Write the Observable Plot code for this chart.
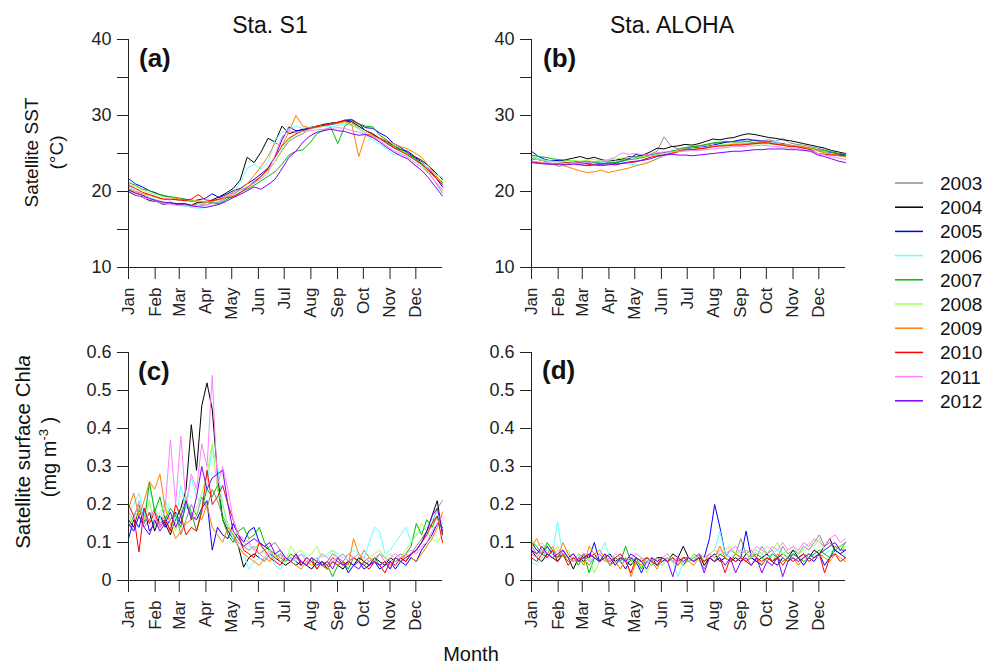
<!DOCTYPE html>
<html><head><meta charset="utf-8">
<script src="https://cdn.jsdelivr.net/npm/d3@7"></script>
<script src="https://cdn.jsdelivr.net/npm/@observablehq/plot@0.6"></script>
<style>
body{margin:0;background:#fff;}
#fig{position:relative;width:985px;height:668px;font-family:"Liberation Sans",Arial,sans-serif;overflow:hidden;background:#fff}
#fig > svg{position:absolute}
</style></head><body><div id="fig"></div>
<script>
const years = [2003, 2004, 2005, 2006, 2007, 2008, 2009, 2010, 2011, 2012];
const yearColors = ["#8c8c8c", "#000000", "#0000ff", "#66ffff", "#00bb00", "#99ff55", "#ff8000", "#ff0000", "#ff80ff", "#8000ff"];
const monthNames = ["Jan", "Feb", "Mar", "Apr", "May", "Jun", "Jul", "Aug", "Sep", "Oct", "Nov", "Dec"];
const monthStartDays = [0, 31, 59, 90, 120, 151, 181, 212, 243, 273, 304, 334];
const sstTicks = [10, 15, 20, 25, 30, 35, 40];
const chlTicks = [0, 0.1, 0.2, 0.3, 0.4, 0.5, 0.6];

// (a) Satellite SST at Sta. S1, one row per year (2003..2012), ~8-day samples over the year
const sstS1 = [
[20.3,19.8,19.5,19.0,18.9,18.5,18.6,18.2,18.3,18.1,18.4,18.2,18.5,18.6,19.1,19.6,20.2,20.5,21.4,21.9,22.8,23.9,25.4,26.6,27.2,27.6,28.3,28.5,28.9,28.8,29.1,29.4,29.0,28.4,27.6,27.3,26.9,26.3,25.7,25.3,24.9,24.4,23.5,22.5,21.2,19.8],
[20.0,19.5,19.3,18.8,18.7,18.3,18.5,18.4,18.4,18.2,18.6,18.5,18.9,19.3,19.8,20.4,21.5,24.5,23.8,25.2,27.0,26.5,28.6,27.6,27.9,28.2,28.4,28.6,28.8,29.0,29.1,29.3,29.2,28.6,28.0,27.6,27.0,26.6,26.0,25.5,25.3,24.6,24.1,23.4,22.5,21.6],
[21.7,21.0,20.6,20.1,19.8,19.4,19.3,18.9,19.0,18.7,18.9,19.1,19.7,19.2,19.6,20.1,20.4,21.0,21.6,22.3,23.1,24.6,26.8,28.5,28.0,28.1,28.4,28.6,28.7,28.8,29.0,29.3,29.4,28.9,28.4,28.3,27.7,27.2,26.3,25.8,25.1,24.5,23.9,23.0,21.9,20.6],
[20.6,20.2,19.6,19.2,18.9,18.6,18.4,18.2,18.1,17.9,17.8,17.9,18.1,18.5,19.0,19.8,21.2,23.0,23.6,23.0,23.8,26.8,27.8,28.2,28.6,28.3,28.5,28.4,28.6,28.5,28.7,28.8,28.7,28.2,27.4,26.8,26.2,25.6,24.8,24.9,24.6,24.3,23.8,23.1,22.3,21.8],
[21.2,20.8,20.3,20.1,19.7,19.5,19.3,19.2,19.0,18.9,18.7,18.6,18.5,18.4,18.9,19.4,19.9,20.3,20.8,21.4,22.0,22.6,23.6,24.8,25.3,25.5,26.4,27.6,28.1,28.4,26.3,28.6,29.3,28.9,28.6,28.5,27.4,26.8,26.0,25.6,25.0,24.4,23.7,22.7,21.9,21.2],
[20.9,20.7,20.2,19.8,19.6,19.3,19.2,19.0,18.8,18.9,18.7,18.6,18.7,18.9,19.2,19.5,19.8,20.4,21.0,21.9,22.7,23.9,25.6,26.8,27.5,27.9,28.2,28.4,28.6,28.9,28.9,29.0,28.8,28.3,27.7,27.3,26.9,26.4,25.9,25.3,24.9,24.1,23.4,22.6,21.8,21.4],
[20.4,20.0,19.7,19.5,19.2,19.0,18.9,19.1,18.8,18.7,18.8,18.6,18.7,19.0,19.4,19.9,20.3,21.0,22.1,23.3,24.6,26.4,26.0,27.9,30.0,28.6,28.4,28.6,28.7,28.9,29.0,29.2,28.8,24.6,27.5,27.4,27.0,26.7,26.3,25.9,25.6,25.1,24.5,23.4,22.2,21.0],
[20.8,20.4,19.9,19.6,19.3,19.0,19.0,18.9,18.8,19.0,19.6,18.9,18.8,19.0,19.2,19.3,19.8,20.5,21.2,22.0,23.0,24.5,26.0,27.0,27.6,28.0,28.3,28.5,28.7,28.9,29.1,29.4,29.5,28.9,28.0,27.5,27.0,26.4,25.8,25.3,24.8,24.2,23.6,22.8,21.8,20.9],
[20.1,19.6,19.2,19.0,18.7,18.4,18.3,18.2,18.1,18.2,18.1,18.2,18.4,18.7,19.3,19.7,20.2,20.6,21.1,21.7,22.4,24.8,27.2,28.0,27.8,27.9,28.0,28.1,28.2,28.3,28.4,28.3,28.0,27.8,27.5,27.2,26.7,26.0,25.4,25.0,24.5,23.8,23.2,22.4,21.3,20.2],
[20.2,19.8,19.5,19.1,18.8,18.6,18.5,18.3,18.4,18.1,18.0,17.9,18.1,18.3,18.7,19.2,19.6,20.1,20.6,20.3,20.9,21.6,23.0,24.5,25.3,26.5,27.3,27.8,28.0,28.2,28.0,27.9,27.6,27.4,27.5,27.1,26.5,25.8,25.2,24.7,24.3,23.5,22.8,21.8,20.6,19.4]
];

// (b) Satellite SST at Sta. ALOHA
const sstAloha = [
[24.6,24.3,24.0,23.6,23.3,23.6,23.7,23.9,23.8,23.6,23.9,24.0,23.8,24.2,24.4,24.6,24.8,24.9,25.3,27.2,26.0,25.6,25.8,25.9,26.0,26.1,26.3,26.4,26.5,26.6,26.7,26.6,26.8,26.7,26.8,26.6,27.0,26.4,26.2,26.1,25.9,25.7,25.5,25.2,25.0,24.8],
[24.3,24.2,24.0,24.1,24.0,24.2,24.4,24.6,24.3,24.5,24.2,24.0,24.1,24.3,24.6,24.5,24.8,25.2,25.7,25.6,25.9,26.0,26.2,26.1,26.3,26.6,26.9,26.8,27.0,27.1,27.4,27.6,27.5,27.3,27.1,27.0,26.8,26.7,26.5,26.3,26.1,25.9,25.7,25.4,25.2,25.0],
[25.3,24.6,24.2,24.0,24.1,23.8,23.7,23.6,23.7,23.9,23.6,23.8,23.7,24.0,24.3,24.9,24.6,24.8,25.0,25.1,25.3,25.4,25.6,25.7,25.8,25.9,26.1,26.3,26.5,26.6,26.8,26.9,26.7,26.6,26.6,26.4,26.3,26.1,25.9,25.8,25.6,25.4,25.2,25.1,24.9,24.8],
[24.5,24.3,24.1,24.0,23.9,23.8,23.9,23.8,23.9,23.7,23.8,23.9,24.0,23.8,23.6,23.5,23.6,23.9,24.3,24.6,24.9,25.2,25.4,25.6,25.7,25.8,26.0,26.1,26.2,26.3,26.3,26.4,26.3,26.5,26.5,26.4,26.2,26.1,26.0,25.8,25.7,25.4,25.2,25.0,24.8,24.6],
[24.8,24.6,24.5,24.3,24.2,24.1,24.0,23.9,24.0,23.8,23.7,23.7,23.8,24.0,24.2,24.3,24.5,24.7,24.9,25.0,25.3,25.5,25.7,25.9,26.0,26.2,26.4,26.5,26.6,26.5,26.5,26.6,26.4,26.3,26.3,26.2,26.1,26.0,25.9,25.8,25.7,25.5,25.4,25.2,25.0,24.9],
[24.3,24.2,24.0,23.9,23.9,24.0,24.1,24.0,24.1,24.2,24.0,24.1,24.3,24.4,24.5,24.5,24.6,24.7,24.9,25.0,25.2,25.4,25.6,25.6,25.7,25.8,26.0,26.1,26.2,26.2,26.3,26.3,26.2,26.3,26.3,26.2,26.1,26.0,25.9,25.7,25.6,25.3,25.1,24.9,24.7,24.5],
[24.0,23.8,23.7,23.6,23.5,23.3,23.0,22.7,22.5,22.6,22.8,22.5,22.7,22.9,23.1,23.4,23.6,23.9,24.3,24.8,25.0,25.2,25.5,25.5,25.6,25.8,25.9,26.0,26.1,26.2,26.2,26.3,26.4,26.4,26.4,26.3,26.2,26.1,26.0,25.9,25.7,25.4,25.1,24.9,24.7,24.6],
[23.9,23.8,23.7,23.6,23.7,23.8,23.7,23.8,23.6,23.5,23.4,23.5,23.6,23.7,23.8,23.9,24.2,24.5,24.7,24.8,25.0,25.3,25.5,25.5,25.6,25.7,25.9,26.0,26.0,26.1,26.1,26.2,26.3,26.4,26.4,26.2,26.1,25.9,25.9,25.7,25.5,25.0,24.9,24.8,24.8,24.7],
[24.0,23.9,23.8,23.7,23.7,23.6,23.7,23.7,23.8,23.9,24.0,24.2,24.5,25.1,24.9,25.0,24.8,24.9,25.1,25.2,25.2,25.3,25.3,25.4,25.4,25.5,25.6,25.7,25.8,25.9,25.9,26.0,26.0,26.1,26.0,25.9,25.8,25.7,25.7,25.5,25.3,25.0,24.8,24.6,24.4,24.2],
[23.8,23.7,23.6,23.6,23.6,23.5,23.6,23.5,23.4,23.5,23.6,23.6,23.5,23.7,23.9,24.0,24.1,24.3,24.6,24.8,24.9,24.8,24.8,24.7,24.8,24.9,25.0,25.1,25.2,25.3,25.3,25.4,25.5,25.5,25.6,25.6,25.6,25.5,25.5,25.4,25.3,24.8,24.6,24.3,24.0,23.8]
];

// (c) Satellite surface Chla at Sta. S1, ~6-day samples
const chlS1 = [
[0.15,0.13,0.17,0.14,0.16,0.19,0.15,0.17,0.13,0.18,0.12,0.16,0.2,0.17,0.22,0.19,0.24,0.21,0.17,0.14,0.12,0.1,0.09,0.08,0.09,0.07,0.08,0.09,0.1,0.08,0.06,0.05,0.06,0.05,0.04,0.05,0.06,0.04,0.05,0.07,0.06,0.05,0.07,0.06,0.05,0.08,0.06,0.05,0.07,0.06,0.05,0.06,0.07,0.06,0.07,0.09,0.11,0.13,0.15,0.19,0.21],
[0.16,0.14,0.19,0.15,0.18,0.13,0.17,0.15,0.12,0.16,0.19,0.24,0.41,0.29,0.46,0.52,0.45,0.28,0.16,0.13,0.11,0.09,0.035,0.06,0.07,0.06,0.05,0.07,0.06,0.05,0.04,0.05,0.04,0.05,0.04,0.03,0.05,0.04,0.03,0.05,0.04,0.03,0.05,0.04,0.06,0.05,0.04,0.06,0.05,0.04,0.06,0.05,0.06,0.05,0.07,0.08,0.1,0.13,0.17,0.21,0.12],
[0.11,0.16,0.14,0.19,0.13,0.15,0.17,0.14,0.16,0.18,0.15,0.2,0.17,0.16,0.19,0.21,0.08,0.14,0.12,0.11,0.15,0.12,0.1,0.13,0.14,0.1,0.09,0.08,0.06,0.07,0.05,0.06,0.05,0.04,0.06,0.05,0.04,0.05,0.03,0.05,0.04,0.05,0.02,0.04,0.05,0.03,0.04,0.05,0.03,0.04,0.05,0.03,0.05,0.04,0.06,0.05,0.08,0.1,0.12,0.15,0.14],
[0.18,0.2,0.23,0.17,0.25,0.19,0.16,0.21,0.18,0.15,0.25,0.19,0.27,0.22,0.2,0.25,0.35,0.3,0.2,0.14,0.11,0.09,0.07,0.03,0.05,0.06,0.05,0.07,0.04,0.03,0.05,0.06,0.05,0.07,0.06,0.05,0.06,0.07,0.06,0.08,0.07,0.06,0.07,0.08,0.07,0.06,0.1,0.14,0.13,0.07,0.08,0.1,0.12,0.14,0.1,0.12,0.13,0.14,0.16,0.18,0.15],
[0.14,0.17,0.2,0.15,0.26,0.18,0.22,0.16,0.19,0.17,0.14,0.21,0.18,0.13,0.19,0.24,0.22,0.25,0.16,0.12,0.1,0.13,0.14,0.11,0.12,0.14,0.1,0.08,0.07,0.06,0.05,0.07,0.06,0.05,0.04,0.06,0.03,0.05,0.04,0.01,0.04,0.05,0.03,0.06,0.05,0.04,0.05,0.06,0.04,0.05,0.03,0.06,0.05,0.07,0.09,0.15,0.12,0.16,0.14,0.17,0.13],
[0.17,0.15,0.19,0.16,0.21,0.14,0.18,0.2,0.16,0.13,0.18,0.22,0.16,0.19,0.23,0.28,0.36,0.24,0.2,0.15,0.12,0.11,0.1,0.09,0.08,0.1,0.07,0.08,0.06,0.07,0.05,0.09,0.07,0.08,0.06,0.07,0.09,0.06,0.07,0.08,0.06,0.07,0.05,0.06,0.07,0.05,0.06,0.07,0.08,0.06,0.07,0.05,0.06,0.08,0.1,0.12,0.15,0.13,0.11,0.1,0.12],
[0.19,0.23,0.17,0.21,0.26,0.24,0.28,0.19,0.15,0.11,0.13,0.15,0.16,0.17,0.16,0.2,0.14,0.12,0.1,0.14,0.12,0.09,0.07,0.06,0.05,0.04,0.06,0.05,0.07,0.05,0.06,0.05,0.04,0.03,0.05,0.04,0.05,0.04,0.03,0.05,0.04,0.05,0.04,0.11,0.07,0.05,0.06,0.05,0.04,0.05,0.04,0.06,0.05,0.07,0.06,0.05,0.07,0.09,0.11,0.14,0.18],
[0.2,0.17,0.075,0.19,0.15,0.18,0.14,0.16,0.13,0.2,0.17,0.12,0.14,0.13,0.18,0.29,0.2,0.22,0.25,0.2,0.16,0.12,0.08,0.07,0.06,0.1,0.08,0.06,0.05,0.04,0.06,0.05,0.07,0.04,0.06,0.05,0.03,0.05,0.04,0.06,0.05,0.04,0.05,0.06,0.05,0.04,0.03,0.05,0.04,0.02,0.05,0.04,0.06,0.05,0.07,0.08,0.1,0.12,0.15,0.17,0.1],
[0.18,0.16,0.21,0.15,0.18,0.17,0.14,0.19,0.37,0.2,0.38,0.2,0.28,0.24,0.36,0.3,0.54,0.25,0.3,0.24,0.16,0.12,0.11,0.1,0.08,0.07,0.06,0.08,0.05,0.07,0.06,0.05,0.06,0.07,0.05,0.06,0.05,0.07,0.06,0.05,0.06,0.07,0.05,0.06,0.07,0.06,0.05,0.06,0.07,0.05,0.06,0.07,0.06,0.07,0.08,0.07,0.09,0.1,0.13,0.15,0.17],
[0.15,0.13,0.17,0.14,0.12,0.16,0.13,0.15,0.18,0.14,0.17,0.21,0.16,0.22,0.3,0.24,0.27,0.28,0.29,0.2,0.13,0.11,0.09,0.1,0.11,0.1,0.09,0.1,0.07,0.08,0.06,0.05,0.07,0.05,0.04,0.06,0.05,0.04,0.05,0.03,0.06,0.04,0.05,0.04,0.03,0.05,0.04,0.05,0.04,0.05,0.03,0.06,0.05,0.06,0.07,0.08,0.1,0.13,0.17,0.19,0.13]
];

// (d) Satellite surface Chla at Sta. ALOHA
const chlAloha = [
[0.09,0.07,0.08,0.06,0.08,0.05,0.07,0.06,0.05,0.07,0.06,0.04,0.06,0.07,0.05,0.06,0.04,0.06,0.05,0.06,0.04,0.06,0.05,0.04,0.06,0.05,0.06,0.05,0.04,0.06,0.05,0.07,0.06,0.03,0.06,0.05,0.07,0.06,0.08,0.07,0.11,0.07,0.08,0.06,0.09,0.07,0.08,0.06,0.09,0.07,0.08,0.07,0.09,0.08,0.1,0.12,0.09,0.1,0.08,0.09,0.1],
[0.08,0.06,0.05,0.07,0.06,0.05,0.07,0.06,0.03,0.06,0.05,0.07,0.06,0.05,0.06,0.07,0.05,0.06,0.05,0.04,0.06,0.05,0.06,0.05,0.06,0.06,0.05,0.07,0.06,0.09,0.06,0.05,0.07,0.04,0.06,0.07,0.05,0.06,0.05,0.06,0.05,0.07,0.06,0.05,0.06,0.07,0.05,0.06,0.07,0.06,0.08,0.06,0.07,0.06,0.08,0.07,0.09,0.11,0.08,0.07,0.08],
[0.1,0.08,0.07,0.09,0.07,0.06,0.08,0.06,0.07,0.05,0.06,0.06,0.1,0.05,0.06,0.04,0.06,0.05,0.03,0.06,0.05,0.02,0.05,0.06,0.04,0.05,0.06,0.05,0.06,0.04,0.06,0.05,0.07,0.06,0.11,0.2,0.14,0.07,0.06,0.05,0.06,0.13,0.06,0.05,0.04,0.06,0.05,0.04,0.06,0.05,0.07,0.06,0.04,0.06,0.05,0.07,0.04,0.06,0.08,0.07,0.06],
[0.05,0.04,0.06,0.08,0.07,0.155,0.06,0.07,0.06,0.05,0.07,0.06,0.05,0.07,0.1,0.06,0.06,0.05,0.06,0.05,0.06,0.04,0.05,0.06,0.05,0.04,0.06,0.05,0.01,0.05,0.06,0.05,0.07,0.06,0.07,0.08,0.13,0.07,0.06,0.07,0.08,0.07,0.06,0.08,0.07,0.06,0.07,0.08,0.07,0.06,0.07,0.08,0.07,0.06,0.07,0.06,0.07,0.08,0.07,0.08,0.07],
[0.1,0.09,0.07,0.1,0.08,0.06,0.07,0.05,0.06,0.04,0.07,0.02,0.06,0.05,0.07,0.04,0.06,0.05,0.09,0.05,0.06,0.03,0.06,0.05,0.04,0.06,0.05,0.06,0.04,0.06,0.05,0.06,0.07,0.05,0.06,0.05,0.07,0.06,0.05,0.07,0.06,0.05,0.06,0.07,0.06,0.05,0.07,0.06,0.05,0.06,0.07,0.06,0.05,0.06,0.07,0.08,0.07,0.06,0.09,0.08,0.1],
[0.11,0.09,0.1,0.08,0.07,0.09,0.06,0.08,0.05,0.07,0.04,0.06,0.02,0.05,0.06,0.04,0.05,0.03,0.06,0.05,0.04,0.06,0.02,0.05,0.06,0.04,0.06,0.05,0.06,0.04,0.05,0.07,0.05,0.06,0.07,0.08,0.07,0.08,0.09,0.07,0.08,0.07,0.06,0.08,0.07,0.09,0.08,0.1,0.07,0.08,0.09,0.07,0.08,0.1,0.09,0.11,0.08,0.09,0.1,0.08,0.09],
[0.09,0.11,0.08,0.07,0.09,0.06,0.1,0.07,0.05,0.06,0.04,0.09,0.07,0.08,0.06,0.04,0.05,0.03,0.06,0.01,0.05,0.04,0.06,0.05,0.03,0.06,0.05,0.06,0.04,0.06,0.05,0.04,0.06,0.05,0.07,0.06,0.09,0.06,0.05,0.07,0.06,0.05,0.07,0.06,0.04,0.06,0.05,0.07,0.06,0.05,0.06,0.04,0.06,0.07,0.06,0.07,0.06,0.05,0.07,0.06,0.05],
[0.06,0.05,0.07,0.06,0.08,0.05,0.07,0.04,0.06,0.05,0.07,0.06,0.07,0.05,0.06,0.05,0.06,0.07,0.05,0.02,0.06,0.05,0.06,0.05,0.04,0.06,0.05,0.06,0.05,0.06,0.06,0.05,0.06,0.05,0.06,0.05,0.06,0.02,0.06,0.05,0.06,0.05,0.04,0.06,0.05,0.06,0.05,0.06,0.04,0.06,0.05,0.06,0.07,0.05,0.06,0.07,0.02,0.06,0.07,0.05,0.06],
[0.07,0.06,0.08,0.07,0.06,0.08,0.07,0.06,0.05,0.06,0.07,0.05,0.06,0.07,0.06,0.05,0.07,0.06,0.05,0.06,0.07,0.06,0.05,0.06,0.05,0.06,0.07,0.05,0.06,0.05,0.06,0.05,0.07,0.06,0.07,0.06,0.08,0.07,0.08,0.09,0.07,0.08,0.07,0.09,0.08,0.07,0.09,0.08,0.1,0.08,0.09,0.08,0.1,0.09,0.11,0.1,0.09,0.11,0.12,0.1,0.11],
[0.08,0.07,0.09,0.07,0.06,0.07,0.08,0.06,0.07,0.05,0.06,0.07,0.06,0.05,0.07,0.06,0.04,0.06,0.05,0.07,0.06,0.05,0.03,0.06,0.05,0.06,0.05,0.01,0.06,0.05,0.06,0.05,0.06,0.02,0.06,0.05,0.06,0.04,0.06,0.02,0.05,0.06,0.04,0.06,0.02,0.05,0.04,0.06,0.01,0.05,0.06,0.05,0.06,0.07,0.06,0.07,0.08,0.09,0.1,0.08,0.08]
];

const FONT = "Liberation Sans, Arial, Helvetica, sans-serif";
const fig = document.getElementById("fig");

function toRows(series) {
  const rows = [];
  series.forEach((vals, k) => vals.forEach((v, i) => rows.push({year: years[k], day: i * 365 / (vals.length - 1), v})));
  return rows;
}

function panel(series, o) {
  const svg = Plot.plot({
    width: o.width, height: 335,
    marginLeft: o.ml, marginRight: 28, marginTop: 39, marginBottom: 68,
    style: {background: "transparent", overflow: "visible", fontFamily: FONT, color: "#222"},
    x: {domain: [0, 365]},
    y: {domain: o.yDomain},
    color: {type: "ordinal", domain: years, range: yearColors},
    marks: [
      Plot.line(toRows(series), {x: "day", y: "v", z: "year", stroke: "year", strokeWidth: 1}),
      Plot.ruleX([0], {stroke: "#222"}),
      Plot.ruleY([o.yDomain[0]], {stroke: "#222"}),
      Plot.axisY({ticks: o.ticks, tickFormat: o.fmt, tickSize: 11, tickPadding: 6, fontSize: 18, label: null}),
      Plot.axisX({ticks: monthStartDays, tickFormat: d => monthNames[monthStartDays.indexOf(d)], tickRotate: -90, tickSize: 12, tickPadding: 8, fontSize: 17, label: null})
    ]
  });
  svg.style.left = o.left + "px";
  svg.style.top = o.top + "px";
  fig.appendChild(svg);
}

const sstFmt = d => (d % 10 === 0 ? String(d) : "");
const chlFmt = d => (d === 0 ? "0" : d3.format(".1f")(d));

panel(sstS1, {width: 470, ml: 128, left: 0, top: 0, yDomain: [10, 40], ticks: sstTicks, fmt: sstFmt});
panel(sstAloha, {width: 403, ml: 61, left: 470, top: 0, yDomain: [10, 40], ticks: sstTicks, fmt: sstFmt});
panel(chlS1, {width: 470, ml: 128, left: 0, top: 313, yDomain: [0, 0.6], ticks: chlTicks, fmt: chlFmt});
panel(chlAloha, {width: 403, ml: 61, left: 470, top: 313, yDomain: [0, 0.6], ticks: chlTicks, fmt: chlFmt});

// annotation layer: titles, axis titles, panel letters, legend
const ann = d3.select(fig).append("svg")
  .attr("width", 985).attr("height", 668)
  .style("left", "0px").style("top", "0px").style("pointer-events", "none")
  .style("font-family", FONT).attr("fill", "#111");

function txt(s, x, y, size, opts = {}) {
  const t = ann.append("text").attr("font-size", size).text(s);
  if (opts.rotate) t.attr("transform", `translate(${x},${y}) rotate(-90)`);
  else t.attr("x", x).attr("y", y);
  t.attr("text-anchor", opts.anchor || "start");
  if (opts.bold) t.attr("font-weight", "bold");
  return t;
}

txt("Sta. S1", 270, 33, 23, {anchor: "middle"});
txt("Sta. ALOHA", 672, 33, 23, {anchor: "middle"});
txt("(a)", 139, 67, 26, {bold: true});
txt("(b)", 543, 67, 26, {bold: true});
txt("(c)", 138, 380, 26, {bold: true});
txt("(d)", 542, 379, 26, {bold: true});
txt("Satellite SST", 38, 152.5, 19, {rotate: true, anchor: "middle"});
txt("(°C)", 63, 152.5, 19, {rotate: true, anchor: "middle"});

const chlLab = txt("Satellite surface Chl", 30, 452, 20.5, {rotate: true, anchor: "middle"});
chlLab.append("tspan").attr("font-style", "italic").text("a");
const unitLab = txt("(mg m", 56, 457, 20, {rotate: true, anchor: "middle"});
unitLab.append("tspan").attr("font-size", 13).attr("dy", -8).text("-3");
unitLab.append("tspan").attr("dy", 8).text(" )");

txt("Month", 471, 661, 20, {anchor: "middle"});

years.forEach((yr, i) => {
  const y = 183 + i * 24.2;
  ann.append("line").attr("x1", 895).attr("x2", 923).attr("y1", y).attr("y2", y)
    .attr("stroke", yearColors[i]).attr("stroke-width", 1.5);
  txt(String(yr), 940, y + 7, 19);
});
</script>
</body></html>
